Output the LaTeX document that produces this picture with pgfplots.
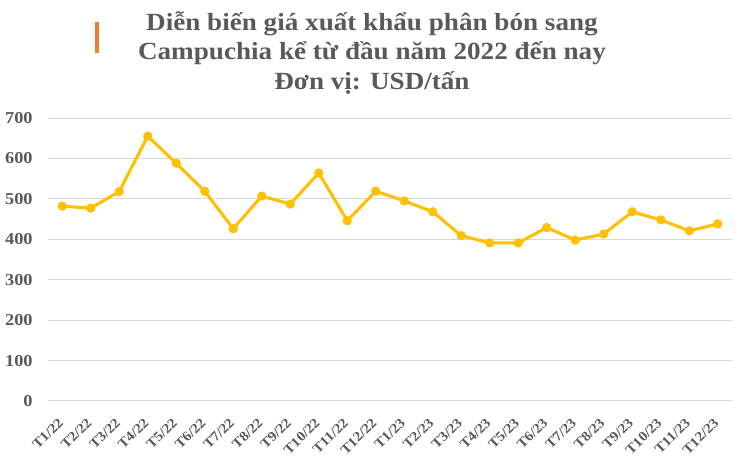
\documentclass[border=0pt]{standalone}
\usepackage{pgfplots}
\pgfplotsset{compat=1.18}
\usepackage{fontspec}
\setmainfont[FakeStretch=1.1]{Liberation Serif}
\definecolor{lineC}{HTML}{FFC000}
\definecolor{gridC}{HTML}{D9D9D9}
\definecolor{txtC}{HTML}{595959}
\definecolor{barC}{HTML}{ED7D31}
\begin{document}
\begin{tikzpicture}
\begin{axis}[
  at={(0,0)}, anchor=south west,
  scale only axis, width=513pt, height=212.25pt,
  xmin=-0.5, xmax=23.5, ymin=0, ymax=700,
  ytick={0,100,...,700},
  xtick=data,
  xticklabels={T1/22,T2/22,T3/22,T4/22,T5/22,T6/22,T7/22,T8/22,T9/22,T10/22,T11/22,T12/22,
               T1/23,T2/23,T3/23,T4/23,T5/23,T6/23,T7/23,T8/23,T9/23,T10/23,T11/23,T12/23},
  axis line style={draw=none},
  major tick length=0pt,
  ymajorgrids, grid style={gridC, line width=0.75pt},
  yticklabel style={font=\fontsize{12.5pt}{14pt}\selectfont\bfseries, text=txtC, xshift=-8pt},
  xticklabel style={font=\fontsize{10.3pt}{11pt}\selectfont\bfseries, text=txtC, rotate=45, anchor=north east, inner sep=1pt, xshift=-10pt, yshift=-5pt},
  /pgf/number format/assume math mode=true,
  clip=false,
]
\addplot[color=lineC, line width=2.3pt, mark=*, mark size=3.2pt, mark options={solid, fill=lineC, draw=lineC, line width=0.5pt}] coordinates {
(0,482) (1,477) (2,518) (3,655) (4,588) (5,519) (6,426) (7,507) (8,487) (9,564) (10,446) (11,519)
(12,495) (13,468) (14,409) (15,391) (16,391) (17,429) (18,398) (19,413) (20,468) (21,448) (22,421) (23,438)
};
\end{axis}
\fill[barC] (35.25pt,261pt) rectangle (38.25pt,284.25pt);
\node[align=center, text=txtC, font=\fontsize{18.5pt}{22.2pt}\selectfont\bfseries] at (243pt,261pt)
  {Diễn biến giá xuất khẩu phân bón sang\\Campuchia kể từ đầu năm 2022 đến nay\\Đơn vị: USD/tấn};
\pgfresetboundingbox
\path[use as bounding box] (-36pt,-44.25pt) rectangle (523.5pt,300.75pt);
\end{tikzpicture}
\end{document}
